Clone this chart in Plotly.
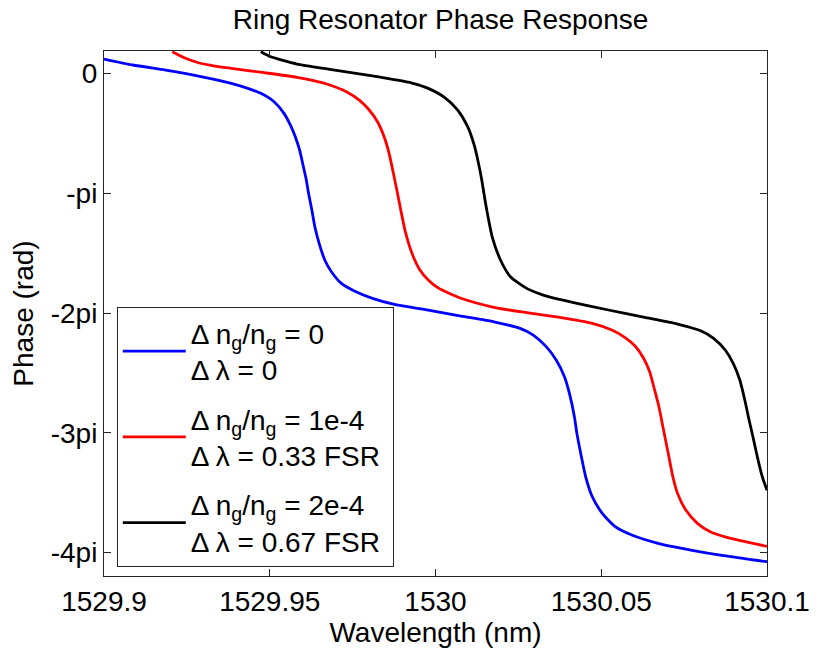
import plotly.graph_objects as go

# Wavelength (nm) and phase (in units of pi)
blue_wl = [1529.9000, 1529.9087, 1529.9186, 1529.9285, 1529.9384, 1529.9434, 1529.9473, 1529.9513,
           1529.9543, 1529.9562, 1529.9577, 1529.9590, 1529.9600, 1529.9610, 1529.9617, 1529.9627,
           1529.9636, 1529.9649, 1529.9666, 1529.9686, 1529.9716, 1529.9760, 1529.9810, 1529.9879,
           1529.9978, 1530.0077, 1530.0176, 1530.0255, 1530.0295, 1530.0334, 1530.0364, 1530.0389,
           1530.0404, 1530.0419, 1530.0426, 1530.0438, 1530.0453, 1530.0473, 1530.0503, 1530.0542,
           1530.0592, 1530.0671, 1530.0770, 1530.0869, 1530.1000]
blue_ph = [0.122, 0.072, 0.030, -0.020, -0.081, -0.123, -0.165, -0.235,
           -0.332, -0.429, -0.527, -0.638, -0.760, -0.885, -1.000, -1.140,
           -1.279, -1.418, -1.557, -1.655, -1.752, -1.822, -1.877, -1.930,
           -1.975, -2.025, -2.073, -2.128, -2.184, -2.281, -2.393, -2.532,
           -2.671, -2.866, -2.997, -3.172, -3.368, -3.535, -3.673, -3.785,
           -3.855, -3.924, -3.980, -4.027, -4.078]

red_wl = [1529.9206, 1529.9246, 1529.9285, 1529.9335, 1529.9384, 1529.9483, 1529.9582, 1529.9632,
          1529.9681, 1529.9731, 1529.9770, 1529.9800, 1529.9825, 1529.9845, 1529.9860, 1529.9873,
          1529.9885, 1529.9896, 1529.9909, 1529.9929, 1529.9953, 1529.9978, 1530.0008, 1530.0077,
          1530.0176, 1530.0275, 1530.0374, 1530.0473, 1530.0532, 1530.0572, 1530.0602, 1530.0626,
          1530.0646, 1530.0661, 1530.0674, 1530.0686, 1530.0694, 1530.0704, 1530.0716, 1530.0730,
          1530.0755, 1530.0790, 1530.0829, 1530.0879, 1530.0948, 1530.1000]
red_ph = [0.183, 0.128, 0.091, 0.063, 0.044, 0.008, -0.031, -0.059,
          -0.095, -0.151, -0.221, -0.304, -0.402, -0.527, -0.666, -0.833,
          -0.995, -1.150, -1.320, -1.501, -1.641, -1.724, -1.790, -1.877,
          -1.952, -1.997, -2.036, -2.086, -2.142, -2.205, -2.275, -2.370,
          -2.490, -2.643, -2.783, -2.950, -3.061, -3.200, -3.368, -3.506,
          -3.646, -3.757, -3.827, -3.874, -3.919, -3.950]

black_wl = [1529.9473, 1529.9503, 1529.9543, 1529.9582, 1529.9681, 1529.9780, 1529.9879, 1529.9929,
            1529.9978, 1530.0028, 1530.0067, 1530.0097, 1530.0117, 1530.0129, 1530.0139, 1530.0146,
            1530.0156, 1530.0171, 1530.0196, 1530.0226, 1530.0275, 1530.0325, 1530.0374, 1530.0473,
            1530.0572, 1530.0631, 1530.0730, 1530.0800, 1530.0839, 1530.0874, 1530.0898, 1530.0918,
            1530.0933, 1530.0946, 1530.0958, 1530.0973, 1530.0986, 1530.1000]
black_ph = [0.183, 0.141, 0.108, 0.080, 0.036, -0.006, -0.052, -0.079,
            -0.123, -0.200, -0.304, -0.443, -0.600, -0.740, -0.880, -1.000,
            -1.160, -1.363, -1.557, -1.697, -1.794, -1.850, -1.886, -1.947,
            -2.003, -2.036, -2.092, -2.148, -2.211, -2.309, -2.420, -2.560,
            -2.727, -2.894, -3.040, -3.228, -3.370, -3.480]

series_names = [
    "Δ n<sub>g</sub>/n<sub>g</sub> = 0<br>Δ λ = 0",
    "Δ n<sub>g</sub>/n<sub>g</sub> = 1e-4<br>Δ λ = 0.33 FSR&nbsp;",
    "Δ n<sub>g</sub>/n<sub>g</sub> = 2e-4<br>Δ λ = 0.67 FSR&nbsp;",
]
series_colors = ["#0000FF", "#FF0000", "#000000"]

x_ticks = [1529.9, 1529.95, 1530.0, 1530.05, 1530.1]
x_ticktext = ["1529.9", "1529.95", "1530", "1530.05", "1530.1"]
y_ticks = [0, -1, -2, -3, -4]
y_ticktext = ["0", "-pi", "-2pi", "-3pi", "-4pi"]

FONT = "Liberation Sans, Arial, Helvetica, sans-serif"
FS = 28

fig = go.Figure()
for i, (wl, ph) in enumerate([(blue_wl, blue_ph), (red_wl, red_ph), (black_wl, black_ph)]):
    fig.add_trace(go.Scatter(
        x=wl, y=ph, mode="lines", name=series_names[i],
        line=dict(color=series_colors[i], width=2.8, shape="spline", smoothing=0.6),
        legendgroup=f"g{i}",
    ))

fig.update_layout(
    width=822, height=652,
    margin=dict(l=104, r=45, t=51, b=76),
    paper_bgcolor="white", plot_bgcolor="white",
    font=dict(family=FONT, size=FS, color="black"),
    title=dict(text="Ring Resonator Phase Response", x=440.5 / 822, xanchor="center",
               y=1 - 19 / 652, yanchor="middle", font=dict(size=FS)),
    showlegend=True,
    legend=dict(
        x=0.0193, y=0.512, xanchor="left", yanchor="top",
        bgcolor="white", bordercolor="#262626", borderwidth=1,
        font=dict(size=FS), tracegroupgap=10, itemwidth=63,
        traceorder="grouped",
    ),
)
fig.update_xaxes(
    range=[1529.9, 1530.1], tickvals=x_ticks, ticktext=x_ticktext,
    showgrid=False, zeroline=False, showline=True, linecolor="#262626", linewidth=1,
    mirror="ticks", ticks="inside", ticklen=7, tickcolor="#262626",
    tickfont=dict(size=FS), title=dict(text="Wavelength (nm)", font=dict(size=FS), standoff=2),
)
fig.update_yaxes(
    range=[-4.197, 0.189], tickvals=y_ticks, ticktext=y_ticktext,
    showgrid=False, zeroline=False, showline=True, linecolor="#262626", linewidth=1,
    mirror="ticks", ticks="inside", ticklen=7, tickcolor="#262626",
    tickfont=dict(size=FS), title=dict(text="Phase (rad)", font=dict(size=FS), standoff=8),
)

fig.write_html("out.html")
